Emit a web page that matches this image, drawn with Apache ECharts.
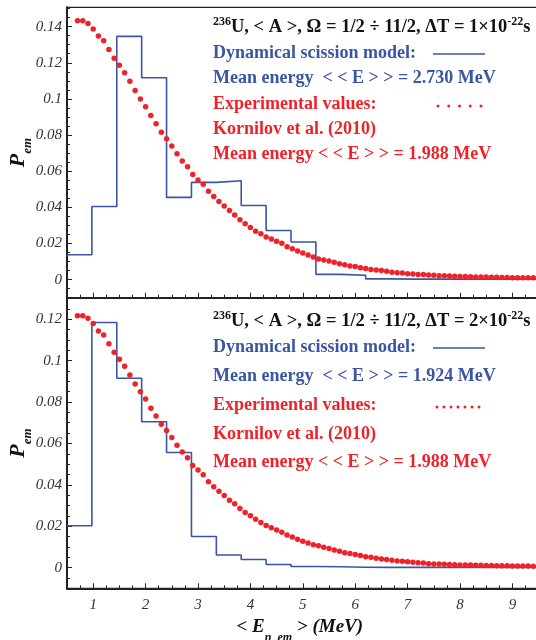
<!DOCTYPE html>
<html>
<head>
<meta charset="utf-8">
<script src="https://cdn.jsdelivr.net/npm/echarts@6/dist/echarts.min.js"></script>
<style>
  html, body { margin: 0; padding: 0; background: #fff; }
  #chart { width: 536px; height: 640px; }
</style>
</head>
<body>
<div id="chart"></div>
<script>
// Neutron emission energy spectra: dynamical scission model (histogram) vs. experiment (dots)

// Histogram bin edges (MeV); the last entry closes the final bin
const binEdges = [0.5, 0.975, 1.45, 1.925, 2.4, 2.875, 3.35, 3.825, 4.3, 4.775,
  5.25, 5.725, 6.2, 6.675, 7.15, 7.625, 8.1, 8.575, 9.05, 9.525];

// Model probabilities per bin, ΔT = 1e-22 s
const modelTop = [0.0138, 0.0405, 0.1346, 0.1117, 0.0455, 0.0538, 0.0547, 0.0410, 0.0272, 0.0208,
  0.0029, 0.0024, 0.0004, 0.0003, 0.0003, 0.0003, 0.0002, 0.0002, 0.0002];

// Model probabilities per bin, ΔT = 2e-22 s
const modelBottom = [0.0202, 0.1184, 0.0915, 0.0705, 0.0556, 0.0150, 0.0061, 0.0039, 0.0015, 0.0005,
  0.0004, 0.0002, 0.0001, 0.0001, 0.0001, 0.0001, 0.0001, 0.0001, 0.0001];

// Experimental energies (MeV), Kornilov et al. (2010)
const expEnergy = [0.7, 0.8, 0.9, 1.0, 1.1, 1.2, 1.3, 1.4, 1.5, 1.6, 1.7, 1.8, 1.9, 2.0, 2.1, 2.2,
  2.3, 2.4, 2.5, 2.6, 2.7, 2.8, 2.9, 3.0, 3.1, 3.2, 3.3, 3.4, 3.5, 3.6, 3.7, 3.8, 3.9, 4.0, 4.1,
  4.2, 4.3, 4.4, 4.5, 4.6, 4.7, 4.8, 4.9, 5.0, 5.1, 5.2, 5.3, 5.4, 5.5, 5.6, 5.7, 5.8, 5.9, 6.0,
  6.1, 6.2, 6.3, 6.4, 6.5, 6.6, 6.7, 6.8, 6.9, 7.0, 7.1, 7.2, 7.3, 7.4, 7.5, 7.6, 7.7, 7.8, 7.9,
  8.0, 8.1, 8.2, 8.3, 8.4, 8.5, 8.6, 8.7, 8.8, 8.9, 9.0, 9.1, 9.2, 9.3, 9.4];

const expTop = [0.1433, 0.1433, 0.1418, 0.1387, 0.1348, 0.1322, 0.1274, 0.1225, 0.1186, 0.1145,
  0.1098, 0.1046, 0.1000, 0.0956, 0.0908, 0.0862, 0.0816, 0.0779, 0.0740, 0.0696, 0.0657, 0.0624,
  0.0582, 0.0551, 0.0528, 0.0489, 0.0460, 0.0433, 0.0407, 0.0382, 0.0357, 0.0332, 0.0309, 0.0289,
  0.0268, 0.0254, 0.0236, 0.0225, 0.0212, 0.0201, 0.0182, 0.0171, 0.0158, 0.0147, 0.0136, 0.0125,
  0.0114, 0.0109, 0.0103, 0.0096, 0.0088, 0.0083, 0.0076, 0.0073, 0.0066, 0.0061, 0.0056, 0.0053,
  0.0050, 0.0046, 0.0041, 0.0038, 0.0036, 0.0033, 0.0031, 0.0029, 0.0028, 0.0026, 0.0024, 0.0022,
  0.0021, 0.0020, 0.0019, 0.0018, 0.0017, 0.0016, 0.0015, 0.0014, 0.0014, 0.0013, 0.0013, 0.0012,
  0.0012, 0.0011, 0.0011, 0.0010, 0.0010, 0.0010];

const expBottom = [0.1217, 0.1217, 0.1205, 0.1179, 0.1143, 0.1124, 0.1082, 0.1041, 0.1007, 0.0973,
  0.0931, 0.0887, 0.0850, 0.0814, 0.0770, 0.0733, 0.0693, 0.0662, 0.0628, 0.0591, 0.0559, 0.0531,
  0.0493, 0.0471, 0.0449, 0.0415, 0.0391, 0.0369, 0.0348, 0.0326, 0.0308, 0.0285, 0.0266, 0.0250,
  0.0234, 0.0218, 0.0203, 0.0193, 0.0182, 0.0171, 0.0157, 0.0148, 0.0137, 0.0127, 0.0119, 0.0111,
  0.0106, 0.0098, 0.0092, 0.0085, 0.0079, 0.0072, 0.0068, 0.0063, 0.0058, 0.0053, 0.0050, 0.0045,
  0.0042, 0.0039, 0.0036, 0.0032, 0.0031, 0.0028, 0.0026, 0.0023, 0.0022, 0.0019, 0.0018, 0.0017,
  0.0016, 0.0015, 0.0014, 0.0013, 0.0012, 0.0012, 0.0011, 0.0011, 0.0010, 0.0010, 0.0009, 0.0009,
  0.0009, 0.0008, 0.0008, 0.0008, 0.0008, 0.0007];

// Tick labels
const xTickValues = [1, 2, 3, 4, 5, 6, 7, 8, 9];
const yTicksTop = [0, 0.02, 0.04, 0.06, 0.08, 0.1, 0.12, 0.14];
const yTicksBottom = [0, 0.02, 0.04, 0.06, 0.08, 0.1, 0.12];

const BLUE = '#3a55a4';
const RED = '#ee2229';
const AXIS = '#222';
const SERIF = '"Liberation Serif", "Times New Roman", serif';

function histogram(edges, values) {
  const pts = values.map((v, i) => [edges[i], v]);
  pts.push([edges[values.length], values[values.length - 1]]);
  return pts;
}
function points(xs, ys) { return xs.map((x, i) => [x, ys[i]]); }

const tickLabelStyle = { fontFamily: SERIF, fontStyle: 'italic', fontSize: 15, color: '#333' };

function majorX(grid, withLabels) {
  const ax = {
    type: 'value', gridIndex: grid, position: 'bottom', min: 0.5, max: 9.5,
    axisLine: { show: true, onZero: false, lineStyle: { color: AXIS, width: 2 } },
    axisTick: { show: true, inside: true, length: 5, customValues: xTickValues, lineStyle: { color: AXIS, width: 1 } },
    axisLabel: { show: withLabels, customValues: xTickValues, margin: 9, ...tickLabelStyle, formatter: v => String(v) },
    splitLine: { show: false }
  };
  if (withLabels) {
    ax.name = '{t|< E}{s|n  em}{t| > (MeV)}';
    ax.nameLocation = 'middle';
    ax.nameGap = 28;
    ax.nameTextStyle = {
      padding: [0, 6, 0, 0],
      rich: {
        t: { fontFamily: SERIF, fontStyle: 'italic', fontWeight: 'bold', fontSize: 19, color: '#111', lineHeight: 22 },
        s: { fontFamily: SERIF, fontStyle: 'italic', fontWeight: 'bold', fontSize: 12, color: '#111', verticalAlign: 'bottom', lineHeight: 14, padding: [0, 0, -6, 0] }
      }
    };
  }
  return ax;
}
function minorX(grid) {
  return {
    type: 'value', gridIndex: grid, position: 'bottom', min: 0.5, max: 9.5, interval: 0.25,
    axisLine: { show: false, onZero: false },
    axisTick: { show: true, inside: true, length: 3, lineStyle: { color: AXIS, width: 1 } },
    axisLabel: { show: false }, splitLine: { show: false }
  };
}
function majorY(grid, max, ticks) {
  return {
    type: 'value', gridIndex: grid, position: 'left', min: -0.01, max: max,
    name: '{p|P}{s|em}', nameLocation: 'middle', nameRotate: 90, nameGap: 37, nameMoveOverlap: false,
    nameTextStyle: {
      rich: {
        p: { fontFamily: SERIF, fontStyle: 'italic', fontWeight: 'bold', fontSize: 22, color: '#111', lineHeight: 24 },
        s: { fontFamily: SERIF, fontStyle: 'italic', fontWeight: 'bold', fontSize: 13, color: '#111', verticalAlign: 'bottom', lineHeight: 14, padding: [0, 0, -4, 0] }
      }
    },
    axisLine: { show: true, onZero: false, lineStyle: { color: AXIS, width: 2 } },
    axisTick: { show: true, inside: true, length: 5, customValues: ticks, lineStyle: { color: AXIS, width: 1 } },
    axisLabel: { show: true, customValues: ticks, margin: 5, ...tickLabelStyle, formatter: v => String(Math.round(v * 100) / 100) },
    splitLine: { show: false }
  };
}
function minorY(grid, max) {
  return {
    type: 'value', gridIndex: grid, position: 'left', min: -0.01, max: max, interval: 0.005,
    axisLine: { show: false, onZero: false },
    axisTick: { show: true, inside: true, length: 3, lineStyle: { color: AXIS, width: 1 } },
    axisLabel: { show: false }, splitLine: { show: false }
  };
}

// Text block for each panel
const LX = 213;
const boldRich = (color) => ({
  t: { fontFamily: SERIF, fontWeight: 'bold', fontSize: 18, fill: color, lineHeight: 22 },
  w: { fontFamily: SERIF, fontWeight: 'bold', fontSize: 18.5, fill: color, lineHeight: 22 },
  sup: { fontFamily: SERIF, fontWeight: 'bold', fontSize: 12, fill: color, verticalAlign: 'top', lineHeight: 12 }
});
function textLine(y, text, color) {
  return {
    type: 'text', x: LX, y: y, silent: true,
    style: { text: text, rich: boldRich(color), align: 'left', verticalAlign: 'middle' }
  };
}
function panelText(ys, dt, modelMean, dotXs) {
  const els = [
    textLine(ys[0], '{sup|236}{w|U, < A >, Ω = 1/2 ÷ 11/2, ΔT = ' + dt + '×10}{sup|-22}{w|s}', '#111'),
    textLine(ys[1], '{t|Dynamical scission model:}', BLUE),
    textLine(ys[2], '{t|Mean energy  < < E > > = ' + modelMean + ' MeV}', BLUE),
    textLine(ys[3], '{t|Experimental values:}', RED),
    textLine(ys[4], '{t|Kornilov et al. (2010)}', RED),
    textLine(ys[5], '{t|Mean energy < < E > > = 1.988 MeV}', RED),
    { type: 'line', silent: true, shape: { x1: 433, y1: ys[1] + 1, x2: 485, y2: ys[1] + 1 }, style: { stroke: BLUE, lineWidth: 1.5 } }
  ];
  dotXs.forEach(x => els.push({ type: 'circle', silent: true, shape: { cx: x, cy: ys[3] + 2, r: 1.5 }, style: { fill: RED } }));
  return els;
}

const chart = echarts.init(document.getElementById('chart'), null, { renderer: 'canvas' });
chart.setOption({
  animation: false,
  backgroundColor: '#fff',
  grid: [
    { left: 67, top: 7.3, width: 471.6, height: 290.4, outerBoundsMode: 'none', containLabel: false,
      show: true, borderColor: AXIS, borderWidth: 1.2, backgroundColor: 'transparent' },
    { left: 67, top: 297.7, width: 471.6, height: 290.6, outerBoundsMode: 'none', containLabel: false,
      show: true, borderColor: AXIS, borderWidth: 1.2, backgroundColor: 'transparent' }
  ],
  xAxis: [majorX(0, false), minorX(0), majorX(1, true), minorX(1)],
  yAxis: [majorY(0, 0.1507, yTicksTop), minorY(0, 0.1507), majorY(1, 0.1304, yTicksBottom), minorY(1, 0.1304)],
  series: [
    { type: 'line', step: 'end', xAxisIndex: 0, yAxisIndex: 0, data: histogram(binEdges, modelTop),
      showSymbol: false, lineStyle: { color: BLUE, width: 1.6 }, z: 2 },
    { type: 'scatter', xAxisIndex: 0, yAxisIndex: 0, data: points(expEnergy, expTop),
      symbolSize: 5.5, itemStyle: { color: RED, opacity: 1 }, z: 3 },
    { type: 'line', step: 'end', xAxisIndex: 2, yAxisIndex: 2, data: histogram(binEdges, modelBottom),
      showSymbol: false, lineStyle: { color: BLUE, width: 1.6 }, z: 2 },
    { type: 'scatter', xAxisIndex: 2, yAxisIndex: 2, data: points(expEnergy, expBottom),
      symbolSize: 5.5, itemStyle: { color: RED, opacity: 1 }, z: 3 }
  ],
  graphic: [
    ...panelText([27, 53, 78, 104, 129, 154], '1', '2.730', [438, 448.75, 459.5, 470.25, 481]),
    ...panelText([321, 347, 376, 405, 434, 462], '2', '1.924', [437, 444, 451, 458, 465, 472, 479])
  ]
});
</script>
</body>
</html>
